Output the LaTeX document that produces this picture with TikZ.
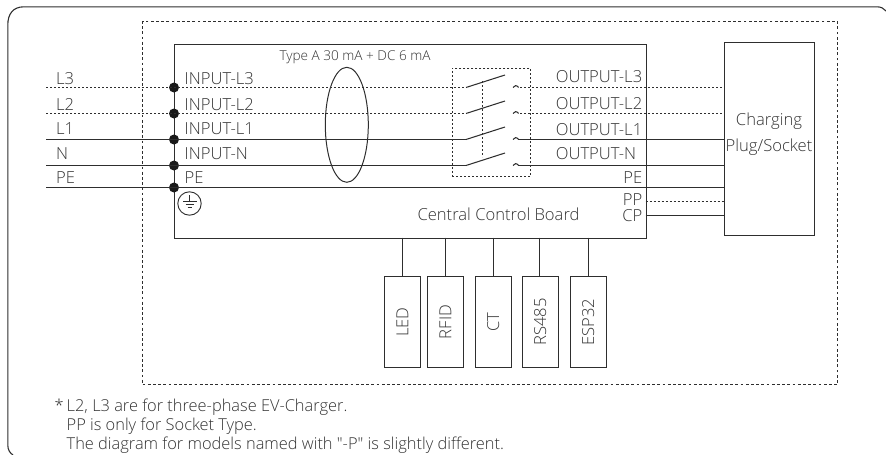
\documentclass[tikz,border=0pt]{standalone}
\usepackage{fontspec}
\setmainfont{Open Sans Light}
\newfontfamily\plainq{Open Sans Light}
\definecolor{ink}{gray}{0.18}
\definecolor{txt}{gray}{0.2}
\tikzset{
  x=1pt,y=-1pt,
  wire/.style={draw=ink,line width=1.05pt},
  dotwire/.style={draw=ink,line width=1pt,dash pattern=on 2.3pt off 1.7pt},
  dotbox/.style={draw=ink,line width=1.1pt,dash pattern=on 2.8pt off 2.4pt},
  swbox/.style={draw=ink,line width=1.1pt,dash pattern=on 2.2pt off 1.8pt},
  box/.style={draw=ink,line width=1.1pt},
  lab/.style={text=txt,font=\fontsize{16.6}{19}\selectfont,inner sep=0pt},
  rotlab/.style={lab,rotate=90},
  note/.style={lab,font=\fontsize{16.4}{19}\selectfont},
  junction/.style={circle,fill=black!90,draw=none,minimum size=10pt,inner sep=0pt},
}
\begin{document}
\begin{tikzpicture}
\useasboundingbox (0,0) rectangle (886,455);
% outer frame
\draw[draw=ink,line width=1.1pt] (13,455) .. controls (10,453) and (7.8,450) .. (7.8,445) -- (7.8,25) .. controls (7.8,14) and (13,6.8) .. (24,6.8) -- (877,6.8) .. controls (881,6.8) and (884,8.5) .. (886,11);
% dotted enclosure
\node[dotbox,minimum width=695pt,minimum height=363pt,anchor=north west,inner sep=0pt] (encl) at (142,21) {};
% main box
\node[box,minimum width=471.5pt,minimum height=194pt,anchor=north west,inner sep=0pt] (board) at (174,43.5) {};
% plug box
\node[box,minimum width=90.5pt,minimum height=193.5pt,anchor=north west,inner sep=0pt] (plug) at (723.7,41.7) {};
\node[lab,anchor=base] at (769,125.7) {Charging};
\node[lab,anchor=base] at (769,151) {Plug/Socket};
% coordinates
\foreach \n/\y in {L3/87.5,L2/113.5,L1/139.5,N/165.5,PE/187.5}{
  \coordinate (in\n) at (46,\y);
  \node[junction] (j\n) at (174,\y) {};
}
% wires
\draw[dotwire] (inL3) -- (466,87.5) (520,87.5) -- (723.7,87.5);
\draw[dotwire] (inL2) -- (466,113.5) (520,113.5) -- (723.7,113.5);
\draw[wire] (inL1) -- (466,139.5) (518,139.5) -- (723.7,139.5);
\draw[wire] (inN) -- (466,165.5) (518,165.5) -- (723.7,165.5);
\draw[wire] (inPE) -- (723.7,187.5);
\draw[dotwire] (645.5,201.5) -- (723.7,201.5);
\draw[wire] (645.5,215.5) -- (723.7,215.5);
% left labels
\foreach \t/\y in {L3/84,L2/110,L1/134.7,N/159,PE/183}{
  \node[lab,anchor=base west] at (56,\y) {\t};
}
\foreach \t/\y in {INPUT-L3/84,INPUT-L2/110,INPUT-L1/134.7,INPUT-N/159.5}{
  \node[lab,anchor=base west] at (184.5,\y) {\t};
}
\node[lab,anchor=base west] at (184.5,183) {PE};
\foreach \t/\y in {OUTPUT-L3/82.7,OUTPUT-L2/109.3,OUTPUT-L1/135,OUTPUT-N/159}{
  \node[lab,anchor=base west] at (555.7,\y) {\t};
}
\node[lab,anchor=base east] at (642.5,183.3) {PE};
\node[lab,anchor=base east] at (642.5,205) {PP};
\node[lab,anchor=base east] at (642.5,221.7) {CP};
\node[lab,anchor=base] at (498.5,220) {Central Control Board};
\node[lab,anchor=base west,font=\fontsize{13.6}{15}\selectfont] at (279.3,60.7) {Type A 30 mA + DC 6 mA};
% RCD ellipse
\draw[draw=ink,line width=1pt] (346.8,124.8) ellipse[x radius=21.5,y radius=57.5];
% switch
\node[swbox,minimum width=78.5pt,minimum height=108.3pt,anchor=north west,inner sep=0pt] (sw) at (451.5,67.7) {};
\foreach \y in {87.5,113.5,139.5,165.5}{
  \draw[wire] (466,\y) -- (505,\y-12.5);
  \draw[wire] (513,\y) .. controls (514,\y-2.5) and (517,\y-2.5) .. (518.5,\y);
}
\draw[dotwire] (482,81) -- (482,157);
% ground
\node[circle,draw=ink,line width=0.9pt,minimum size=23.4pt,inner sep=0pt] (gnd) at (189.5,203.5) {};
\draw[draw=ink,line width=0.8pt] (189.5,195) -- (189.5,201) (183,201) -- (197,201) (185.5,204.2) -- (194,204.2) (187.5,207.3) -- (191.7,207.3);
% lower boxes
\foreach \n/\l/\w/\sx in {led/383.7/36.3/402.5,rfid/426.7/36.3/445.5,ct/474.5/36.3/493.5,rs/521.5/36.3/539.5,esp/569.5/36.3/588.5}{
  \node[box,minimum width=\w pt,minimum height=91pt,anchor=north west,inner sep=0pt] (\n) at (\l,276) {};
  \draw[wire] (\sx,237.5) -- (\sx,276);
}
\node[rotlab] at (led.center) {LED};
\node[rotlab] at (rfid.center) {RFID};
\node[rotlab] at (ct.center) {CT};
\node[rotlab] at (rs.center) {RS485};
\node[rotlab] at (esp.center) {ESP32};
% notes
\node[note,anchor=base west] at (54.5,411.7) {*};
\node[note,anchor=base west] at (66.5,411.7) {L2, L3 are for three-phase EV-Charger.};
\node[note,anchor=base west] at (66.5,430) {PP is only for Socket Type.};
\node[note,anchor=base west] at (66.5,449) {\plainq The diagram for models named with "-P" is slightly different.};
\end{tikzpicture}
\end{document}
